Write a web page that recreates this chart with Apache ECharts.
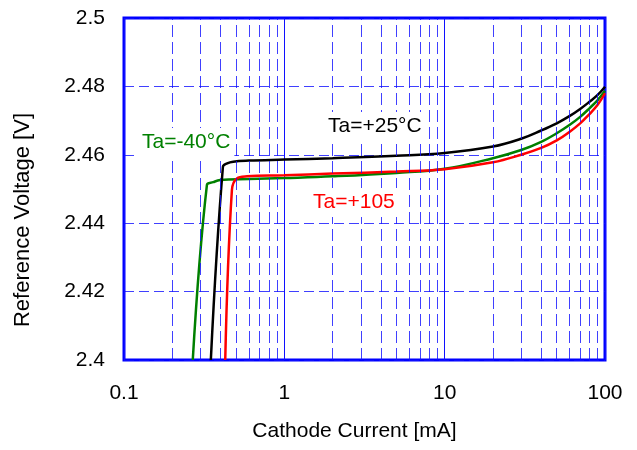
<!DOCTYPE html>
<html>
<head>
<meta charset="utf-8">
<script src="https://cdn.jsdelivr.net/npm/echarts@6/dist/echarts.min.js"></script>
<style>
  html, body { margin: 0; padding: 0; background: #fff; }
  #chartmain { width: 637px; height: 450px; }
</style>
</head>
<body>
<div id="chartmain"></div>
<script>
// 数据 (mA, V)
var xTicks = [0.1, 1, 10, 100];
var minorLines = [0.2, 0.3, 0.4, 0.5, 0.6, 0.7, 0.8, 0.9,
                  2, 3, 4, 5, 6, 7, 8, 9,
                  20, 30, 40, 50, 60, 70, 80, 90];
var yTicks = [2.4, 2.42, 2.44, 2.46, 2.48, 2.5];

var curve25 = [
  [0.348, 2.400], [0.414, 2.4565], [0.44, 2.4575], [0.48, 2.458], [0.6, 2.4583],
  [1, 2.4586], [2, 2.459], [5, 2.4597], [10, 2.4605], [20, 2.4624],
  [30, 2.4647], [40, 2.4671], [50, 2.4692], [60, 2.4713], [70, 2.4734], [80, 2.4755],
  [90, 2.4775], [100, 2.4799]
];
var curveM40 = [
  [0.2685, 2.400], [0.329, 2.4512], [0.36, 2.452], [0.398, 2.4526], [0.6, 2.4529],
  [1, 2.4532], [2, 2.4537], [5, 2.4547], [10, 2.4559], [20, 2.459],
  [30, 2.4614], [40, 2.4638], [50, 2.4663], [60, 2.4687], [70, 2.4711], [80, 2.4736],
  [90, 2.476], [100, 2.4787]
];
var curve105 = [
  [0.428, 2.400], [0.471, 2.4497], [0.506, 2.4531], [0.585, 2.4537], [1, 2.454],
  [2, 2.4545], [5, 2.4551], [10, 2.4558], [20, 2.4578], [30, 2.46],
  [40, 2.462], [50, 2.4642], [60, 2.4667], [70, 2.4692], [80, 2.4719], [90, 2.4746],
  [100, 2.478]
];

var blue = '#1010ff';
var font = '"Liberation Sans", Arial, sans-serif';

var chartmain = echarts.init(document.getElementById('chartmain'));
chartmain.setOption({
  animation: false,
  grid: {
    left: 124, right: 32, top: 18, bottom: 90,
    show: true, borderColor: '#0000ff', borderWidth: 3, backgroundColor: 'transparent'
  },
  xAxis: {
    type: 'log', logBase: 10, min: xTicks[0], max: xTicks[xTicks.length - 1],
    axisLine: { show: false },
    axisTick: { show: false },
    axisLabel: {
      color: '#000', fontSize: 21, fontFamily: font, margin: 23,
      formatter: function (v) { return String(+v.toPrecision(3)); }
    },
    splitLine: { show: true, lineStyle: { color: blue, width: 1, type: 'solid' } },
    name: 'Cathode Current [mA]', nameLocation: 'middle', nameGap: 61,
    nameTextStyle: { color: '#000', fontSize: 21, fontFamily: font, padding: [0, 20, 0, 0] }
  },
  yAxis: {
    type: 'value', min: yTicks[0], max: yTicks[yTicks.length - 1], interval: 0.02,
    axisLine: { show: false },
    axisTick: { show: false },
    axisLabel: {
      color: '#000', fontSize: 21, fontFamily: font, margin: 19,
      formatter: function (v) { return String(+v.toFixed(2)); }
    },
    splitLine: { show: true, lineStyle: { color: blue, width: 1, type: [10, 5], opacity: 0.8 } }
  },
  graphic: [
    { type: 'text', left: 12, top: 113, rotation: Math.PI / 2,
      style: { text: 'Reference Voltage [V]', fill: '#000', font: '22px ' + font } },
    { type: 'text', left: 324, top: 112, z: 50,
      style: { text: 'Ta=+25°C', fill: '#000', font: '21px ' + font,
               backgroundColor: '#fff', padding: [4, 4, 4, 4] } },
    { type: 'text', left: 138, top: 128, z: 50,
      style: { text: 'Ta=-40°C', fill: '#008000', font: '21px ' + font,
               backgroundColor: '#fff', padding: [4, 4, 4, 4] } },
    { type: 'text', left: 309, top: 188, z: 50,
      style: { text: 'Ta=+105', fill: '#ff0000', font: '21px ' + font,
               backgroundColor: '#fff', padding: [4, 4, 4, 4] } }
  ],
  series: [
    {
      type: 'line', data: [], z: 1, silent: true,
      markLine: {
        silent: true, symbol: 'none', animation: false,
        label: { show: false },
        lineStyle: { color: blue, width: 1, type: [12, 5], opacity: 0.8 },
        data: minorLines.map(function (v) { return { xAxis: v }; })
      }
    },
    {
      name: 'Ta=+25', type: 'line', data: curve25, showSymbol: false, z: 4,
      smooth: 0.4,
      lineStyle: { color: '#000', width: 2.5 }
    },
    {
      name: 'Ta=-40', type: 'line', data: curveM40, showSymbol: false, z: 3,
      smooth: 0.4,
      lineStyle: { color: '#008000', width: 2.5 }
    },
    {
      name: 'Ta=+105', type: 'line', data: curve105, showSymbol: false, z: 4,
      smooth: 0.4,
      lineStyle: { color: '#ff0000', width: 2.5 }
    }
  ]
});
</script>
</body>
</html>
